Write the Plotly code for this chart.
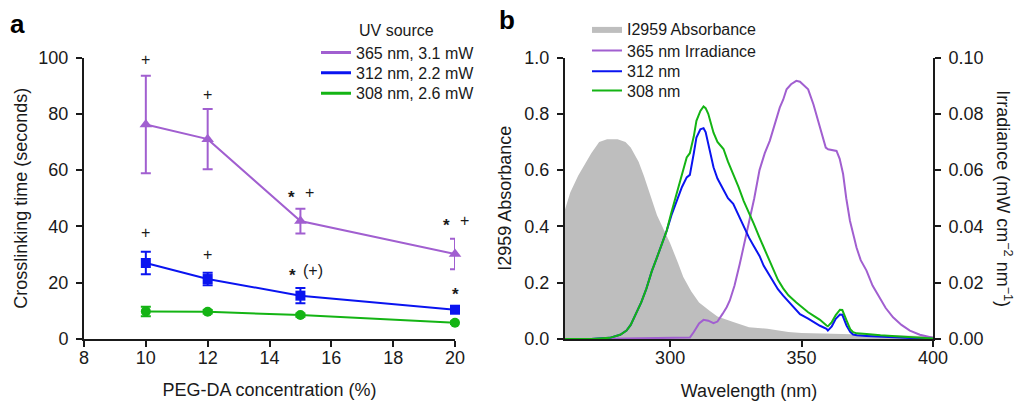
import plotly.graph_objects as go

# ---- panel a: crosslinking time vs PEG-DA concentration ----
conc = [10, 12, 15, 20]
t365 = [76.2, 71.0, 41.9, 30.2]
t365_err = [17.3, 10.7, 4.4, 5.4]
t312 = [27.0, 21.3, 15.4, 10.4]
t312_err = [4.0, 2.2, 2.7, 0.8]
t308 = [9.8, 9.7, 8.5, 5.8]
t308_err = [1.7, 0.6, 0.6, 0.5]

# significance marks: anchored at a concentration, nudged sideways in px
sig_x = [10, 12, 15, 15, 20, 20, 10, 12, 15, 15, 20]
sig_dx = [0, 0, -9, 9, -9, 9, 0, 0, -8, 13, 0]
sig_y = [99.3, 87, 52, 52, 42, 42, 38, 30, 24.4, 24.4, 17.5]
sig_text = ["+", "+", "*", "+", "*", "+", "+", "+", "*", "(+)", "*"]

# ---- panel b: spectra ----
abs_wl = [260, 262, 265, 268, 270, 273, 276, 280, 283, 285, 288, 290, 293, 295,
          298, 300, 303, 305, 308, 311, 315, 318, 324, 330, 337, 345, 350, 362,
          375, 390, 400]
abs_val = [0.46, 0.52, 0.58, 0.63, 0.66, 0.70, 0.71, 0.71, 0.70, 0.68, 0.63, 0.58,
           0.50, 0.44, 0.38, 0.34, 0.27, 0.22, 0.17, 0.13, 0.10, 0.08, 0.06, 0.042,
           0.036, 0.025, 0.021, 0.018, 0.015, 0.012, 0.01]

uv_wl = [260, 270, 277, 281, 283.4, 285, 287, 289, 291, 293, 295, 297, 298.7, 300.5,
         302.5, 304.5, 306.3, 307.5, 309, 310, 311.5, 312.7, 313.5, 314.5, 316.5, 318,
         320.3, 322, 324, 326, 328, 330, 331.8, 334, 335.6, 337.5, 339.4, 341, 343,
         345, 348, 349.4, 352.5, 354.5, 357, 359.5, 360, 361.5, 363, 364.6, 365.5,
         367.1, 368.5, 369.6, 371, 374.7, 380, 387.4, 395, 400]
irr308 = [0, 0, 0.0004, 0.0015, 0.003, 0.005, 0.009, 0.013, 0.018, 0.024, 0.029,
          0.034, 0.0385, 0.045, 0.0515, 0.058, 0.0645, 0.066, 0.072, 0.0775, 0.081,
          0.0826, 0.082, 0.080, 0.0733, 0.070, 0.0675, 0.063, 0.0586, 0.054, 0.049,
          0.045, 0.041, 0.036, 0.0325, 0.028, 0.0243, 0.021, 0.018, 0.0155, 0.013,
          0.0119, 0.0095, 0.0083, 0.0068, 0.0048, 0.0045, 0.006, 0.0085, 0.0104,
          0.0103, 0.0066, 0.0035, 0.0024, 0.002, 0.0018, 0.0013, 0.0009, 0.0005, 0.0002]
irr312 = [0, 0, 0.0004, 0.0015, 0.003, 0.005, 0.009, 0.013, 0.018, 0.024, 0.029,
          0.034, 0.0385, 0.044, 0.049, 0.054, 0.0574, 0.0583, 0.066, 0.0716, 0.0745,
          0.0749, 0.0735, 0.069, 0.061, 0.057, 0.053, 0.050, 0.048, 0.044, 0.0396,
          0.036, 0.033, 0.0295, 0.026, 0.023, 0.020, 0.0177, 0.0154, 0.0133, 0.0100,
          0.0088, 0.0072, 0.006, 0.0047, 0.0036, 0.003, 0.0045, 0.0072, 0.0087,
          0.0086, 0.0048, 0.0025, 0.0016, 0.0013, 0.0011, 0.0008, 0.0004, 0.0002, 0.0001]

irr365_wl = [270, 280, 290, 300, 305, 307.5, 309, 311, 312.7, 314.5, 316.5, 318, 320,
             321.5, 322.7, 324.5, 326.5, 328.5, 330.3, 332, 334, 336, 337.9, 340,
             341.7, 343, 344.3, 346, 348, 349.4, 351, 352.5, 354.5, 356.5, 358.2,
             359.2, 360.1, 361.5, 363.3, 364.5, 365.8, 367, 368.4, 370, 370.9, 372.5,
             374.7, 377, 379.8, 382, 384.8, 388, 391.2, 395, 400]
irr365 = [0, 0.0001, 0.0002, 0.0002, 0.0003, 0.0005, 0.0025, 0.0055, 0.0068, 0.0065,
          0.0056, 0.0062, 0.009, 0.0113, 0.0137, 0.019, 0.0267, 0.035, 0.042, 0.050,
          0.060, 0.066, 0.0704, 0.077, 0.0822, 0.085, 0.0887, 0.0905, 0.0917, 0.0914,
          0.090, 0.0887, 0.0834, 0.077, 0.0716, 0.068, 0.0674, 0.0672, 0.0668, 0.064,
          0.0586, 0.050, 0.042, 0.036, 0.0325, 0.028, 0.0243, 0.019, 0.0148, 0.011,
          0.0077, 0.005, 0.003, 0.0015, 0.0004]

PURPLE = "#a15fd0"
BLUE = "#0a14f0"
GREEN = "#14b414"
GRAY = "#bebebe"
FONT = "Liberation Sans, Arial, sans-serif"
INK = "#1a1a1a"
W, H = 1014, 401

fig = go.Figure()

# one small legend per entry so the rows sit as tight as in the original
legend_rows = {}


def legend_slot(key, x_px, y_px):
    legend_rows[key] = dict(x=x_px / W, y=1 - y_px / H, xanchor="left", yanchor="middle",
                            font=dict(size=16, color=INK), bgcolor="rgba(0,0,0,0)",
                            borderwidth=0, itemwidth=30)
    return key


# panel a data
a_rows = [52.7, 72.8, 93.3]
for i, (y, err, col, sym, msize, name) in enumerate([
    (t365, t365_err, PURPLE, "triangle-up", 11, "365 nm, 3.1 mW"),
    (t312, t312_err, BLUE, "square", 10, "312 nm, 2.2 mW"),
    (t308, t308_err, GREEN, "circle", 10, "308 nm, 2.6 mW"),
]):
    fig.add_trace(go.Scatter(
        x=conc, y=y, mode="lines+markers", xaxis="x", yaxis="y",
        line=dict(color=col, width=2),
        marker=dict(color=col, symbol=sym, size=msize),
        error_y=dict(type="data", array=err, color=col, thickness=2, width=5),
        showlegend=False, cliponaxis=False,
    ))
    # legend entry (line only)
    key = "legend" if i == 0 else f"legend{i + 2}"
    fig.add_trace(go.Scatter(
        x=[None], y=[None], mode="lines", xaxis="x", yaxis="y",
        line=dict(color=col, width=3), name=name,
        legend=legend_slot(key, 316, a_rows[i]),
    ))

for sx, dx, sy, st in zip(sig_x, sig_dx, sig_y, sig_text):
    star = st == "*"
    fig.add_annotation(x=sx, y=sy, xref="x", yref="y",
                       text="<b>*</b>" if star else st, showarrow=False,
                       font=dict(size=17 if star else 16, color=INK),
                       xshift=dx, yshift=-5 if star else 0)

# panel b data
b_rows = [29, 50.7, 71.3, 90.5]
fig.add_trace(go.Scatter(
    x=abs_wl, y=abs_val, mode="lines", fill="tozeroy", xaxis="x2", yaxis="y2",
    line=dict(color=GRAY, width=0), fillcolor=GRAY,
    name="I2959 Absorbance", legend=legend_slot("legend2", 587, b_rows[0]),
))
fig.add_trace(go.Scatter(
    x=irr365_wl, y=irr365, mode="lines", xaxis="x2", yaxis="y3",
    line=dict(color=PURPLE, width=2), name="365 nm Irradiance",
    legend=legend_slot("legend5", 587, b_rows[1]),
))
fig.add_trace(go.Scatter(
    x=uv_wl, y=irr312, mode="lines", xaxis="x2", yaxis="y3",
    line=dict(color=BLUE, width=2), name="312 nm",
    legend=legend_slot("legend6", 587, b_rows[2]),
))
fig.add_trace(go.Scatter(
    x=uv_wl, y=irr308, mode="lines", xaxis="x2", yaxis="y3",
    line=dict(color=GREEN, width=2), name="308 nm",
    legend=legend_slot("legend7", 587, b_rows[3]),
))

ydom = [62 / H, 343.5 / H]
axis_common = dict(
    showline=True, linecolor=INK, linewidth=2, ticks="outside", ticklen=6,
    tickwidth=2, tickcolor=INK, showgrid=False, zeroline=False,
    tickfont=dict(size=18, color=INK), title_font=dict(size=18, color=INK),
    automargin=False,
)

fig.update_layout(
    width=W, height=H,
    margin=dict(l=0, r=0, t=0, b=0),
    plot_bgcolor="white", paper_bgcolor="white",
    font=dict(family=FONT, color=INK),
    xaxis=dict(domain=[84 / W, 455 / W], range=[8, 20], dtick=2, anchor="y",
               title=dict(text="PEG-DA concentration (%)", standoff=17),
               ticklabelstandoff=-5, **axis_common),
    yaxis=dict(domain=ydom, range=[0, 100], dtick=20, anchor="x",
               title=dict(text="Crosslinking time (seconds)", standoff=6),
               ticklabelstandoff=4, **axis_common),
    xaxis2=dict(domain=[565 / W, 933 / W], range=[260, 400], tick0=300, dtick=50,
                anchor="y2", title=dict(text="Wavelength (nm)", standoff=19),
                ticklabelstandoff=-5, **axis_common),
    yaxis2=dict(domain=ydom, range=[0, 1], dtick=0.2, tickformat=".1f", anchor="x2",
                title=dict(text="I2959 Absorbance", standoff=8),
                ticklabelstandoff=4, **axis_common),
    yaxis3=dict(range=[0, 0.1], dtick=0.02, tickformat=".2f", anchor="x2",
                overlaying="y2", side="right", ticklabelstandoff=4, **axis_common),
    **legend_rows,
)

fig.add_annotation(x=357 / W, y=1 - 30 / H, xref="paper", yref="paper", text="UV source",
                   xanchor="left", yanchor="middle", showarrow=False,
                   font=dict(size=16, color=INK))
fig.add_annotation(x=1004 / W, y=(ydom[0] + ydom[1]) / 2, xref="paper", yref="paper",
                   xanchor="center", yanchor="middle",
                   text="Irradiance (mW cm<sup>−2</sup> nm<sup>−1</sup>)", textangle=90,
                   showarrow=False, font=dict(size=18, color=INK))
fig.add_annotation(x=17 / W, y=1 - 24 / H, xref="paper", yref="paper", text="<b>a</b>",
                   xanchor="center", yanchor="middle",
                   showarrow=False, font=dict(size=26, color="black"))
fig.add_annotation(x=507 / W, y=1 - 20 / H, xref="paper", yref="paper", text="<b>b</b>",
                   xanchor="center", yanchor="middle",
                   showarrow=False, font=dict(size=26, color="black"))

# the page body has a default 8px margin; drop it so the figure fills the window
fig.write_html("out.html", config={"displayModeBar": False},
               post_script="document.body.style.margin='0';")
